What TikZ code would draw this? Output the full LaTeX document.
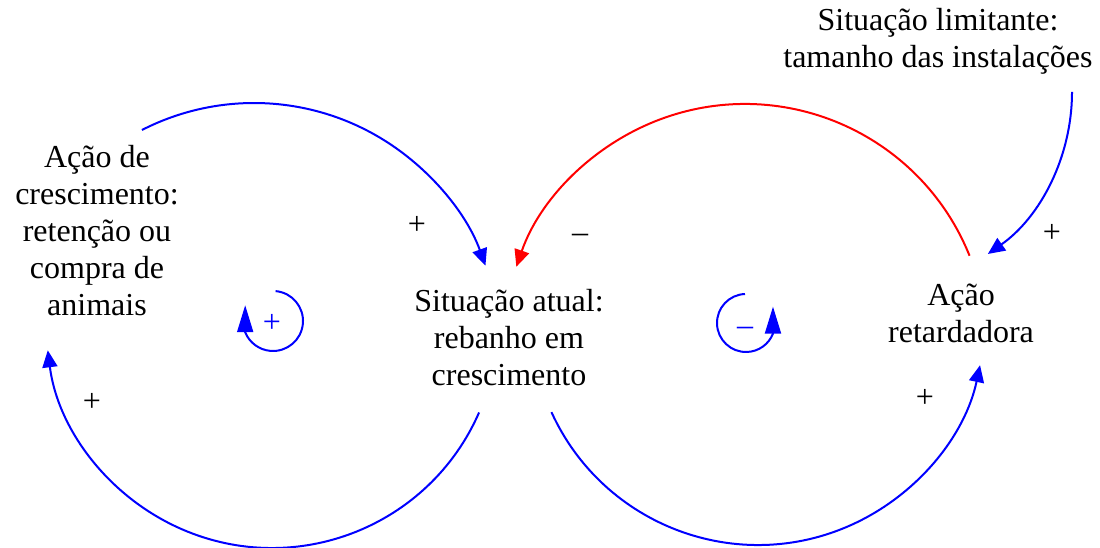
\documentclass[tikz,border=0pt]{standalone}
\usepackage{fontspec}
\setmainfont{Liberation Serif}
\usetikzlibrary{arrows.meta,calc}
\begin{document}
\begin{tikzpicture}[x=1pt,y=1pt,
  lbl/.style={font=\fontsize{32}{37}\selectfont, align=center, inner sep=0pt},
  sgn/.style={font=\fontsize{32}{37}\selectfont, inner sep=0pt},
  bl/.style={draw=blue, line width=2pt, -{Triangle[length=17pt,width=15pt]}},
  rd/.style={draw=red, line width=2pt, -{Triangle[length=17pt,width=15pt]}},
  loopar/.style={draw=blue, line width=2pt, -{Triangle[length=27pt,width=16pt]}}]
\useasboundingbox (0,0) rectangle (1100,548);

% nodes
\node[lbl] (lim) at (938,507) {Situação limitante:\\tamanho das instalações};
\node[lbl] (cres) at (97,317) {Ação de\\crescimento:\\retenção ou\\compra de\\animais};
\node[lbl] (atual) at (509,210) {Situação atual:\\rebanho em\\crescimento};
\node[lbl] (ret) at (961,235) {Ação\\retardadora};

% arc end points
\coordinate (tlS) at ($(254,199)+(117.1:246pt)$);
\coordinate (blS) at ($(272,226)+(-23.6:226pt)$);
\coordinate (rdS) at ($(745,202)+(21.9:242pt)$);
\coordinate (brS) at ($(758,230)+(-155.5:227pt)$);
\coordinate (trS) at ($(874,456)+(0:198pt)$);
\coordinate (lpS) at ($(273,227)+(85:30pt)$);
\coordinate (rpS) at ($(746,225)+(92:29pt)$);

% connectors
\draw[bl] (tlS) arc[start angle=117.1, end angle=19.8, radius=246pt];
\draw[bl] (blS) arc[start angle=-23.6, end angle=-172.8, radius=226pt];
\draw[rd] (rdS) arc[start angle=21.9, end angle=160.9, radius=242pt];
\draw[bl] (brS) arc[start angle=-155.5, end angle=-12, radius=227pt];
\draw[bl] (trS) arc[start angle=0, end angle=-54.9, radius=198pt];

% loop symbols
\draw[loopar] (lpS) arc[start angle=85, end angle=-158, radius=30pt] -- ++(0,27);
\draw[loopar] (rpS) arc[start angle=92, end angle=338.5, radius=29pt] -- ++(0,27);

% polarity labels
\node[sgn] (p1) at (417,323) {+};
\node[sgn] (p2) at (580,310) {–};
\node[sgn] (p3) at (92,146) {+};
\node[sgn] (p4) at (925,150) {+};
\node[sgn] (p5) at (1052,315) {+};
\node[sgn, text=blue] (lp) at (272,225) {+};
\node[sgn, text=blue] (lm) at (745,217) {–};
\end{tikzpicture}
\end{document}
